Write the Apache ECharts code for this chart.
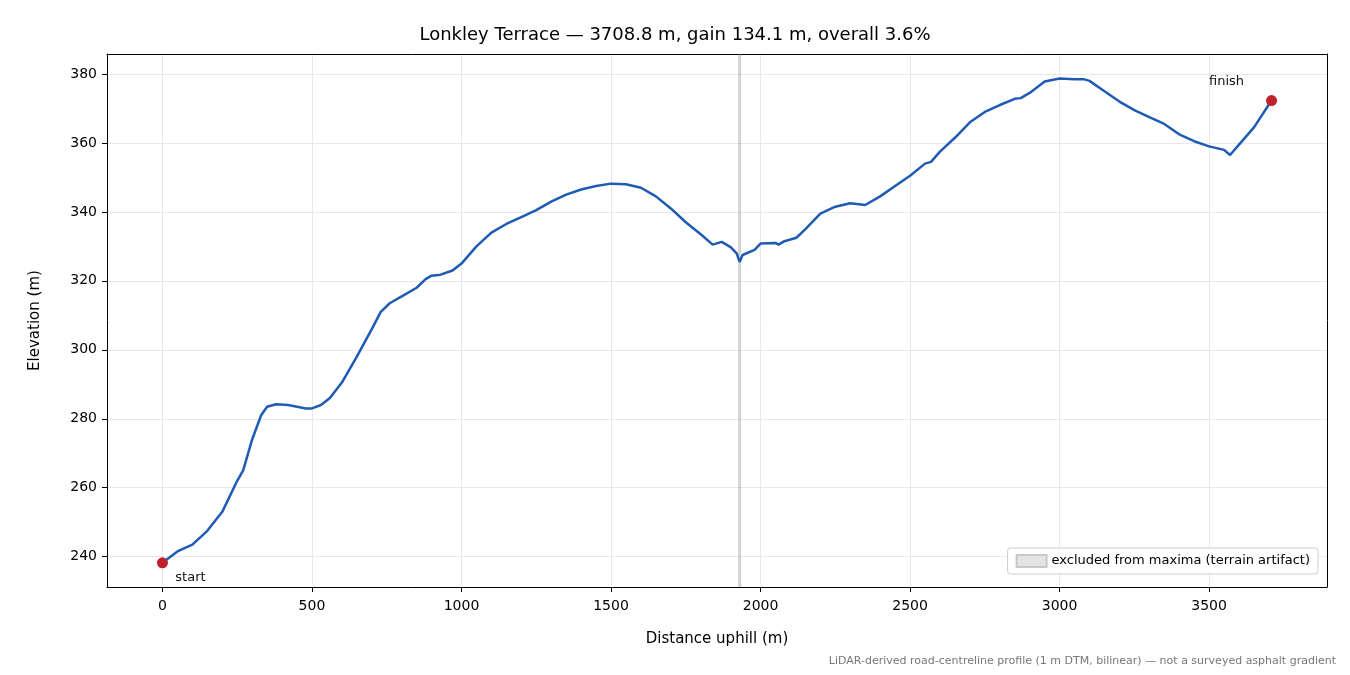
<!DOCTYPE html>
<html><head><meta charset="utf-8">
<script src="https://cdn.jsdelivr.net/npm/echarts@6/dist/echarts.min.js"></script>
<style>html,body{margin:0;padding:0;background:#fff}#c{width:1350px;height:675px}</style>
</head><body><div id="c"></div>
<script>
const distance = [0,50,100,150,200,250,270,300,330,350,380,420,450,480,500,530,560,600,650,700,730,760,800,850,880,900,930,970,1000,1050,1100,1150,1200,1250,1300,1350,1400,1450,1500,1550,1600,1650,1700,1750,1800,1840,1870,1900,1920,1930,1940,1980,2000,2050,2060,2080,2120,2150,2200,2250,2300,2350,2400,2450,2500,2550,2570,2600,2650,2700,2750,2800,2850,2870,2900,2950,3000,3050,3080,3100,3150,3200,3250,3300,3350,3400,3450,3500,3550,3570,3600,3650,3708.8];
const elevation = [238.2,241.5,243.5,247.5,253,262,265,274,281,283.5,284.2,284,283.5,283,283,284,286,290.5,298,306,311,313.5,315.5,318,320.5,321.5,321.8,323,325,330,334,336.5,338.5,340.5,343,345,346.5,347.5,348.2,348,347,344.5,341,337,333.5,330.5,331.3,329.8,328,325.5,327.5,329,330.8,331,330.5,331.5,332.5,335,339.5,341.5,342.5,342,344.5,347.5,350.5,354,354.5,357.5,361.5,366,369,371,372.8,373,374.5,377.8,378.7,378.5,378.5,378,375,372,369.5,367.5,365.5,362.5,360.5,359,358,356.5,359.5,364.5,372.3];
const excluded = [1925,1935];
const xTicks = [0,500,1000,1500,2000,2500,3000,3500];
const yTicks = [240,260,280,300,320,340,360,380];
const font = 'DejaVu Sans';
const chart = echarts.init(document.getElementById('c'));
const line = distance.map((d,i)=>[d,elevation[i]]);
const n = line.length-1;
const frame = {show:true,onZero:false,lineStyle:{color:'#000',width:1}};
chart.setOption({
  animation:false,
  textStyle:{fontFamily:font},
  title:{text:'Lonkley Terrace — 3708.8 m, gain 134.1 m, overall 3.6%',left:'center',top:21,textStyle:{fontFamily:font,fontSize:18,fontWeight:'normal',color:'#000'}},
  grid:{left:107,right:23,top:54,bottom:88},
  xAxis:[{type:'value',min:-185.4,max:3894.2,
    name:'Distance uphill (m)',nameLocation:'middle',nameGap:45,nameTextStyle:{fontSize:15,color:'#000'},
    axisLine:frame,
    axisTick:{show:true,length:5,customValues:xTicks,lineStyle:{color:'#000'}},
    axisLabel:{fontSize:14,color:'#000',margin:12,customValues:xTicks,formatter:v=>String(v)},
    splitLine:{show:false}},
    {type:'value',position:'top',min:-185.4,max:3894.2,axisLine:frame,axisTick:{show:false},axisLabel:{show:false},splitLine:{show:false}}],
  yAxis:[{type:'value',min:231.2,max:385.8,
    name:'Elevation (m)',nameLocation:'middle',nameGap:64,nameTextStyle:{fontSize:15,color:'#000'},
    axisLine:frame,
    axisLabel:{fontSize:14,color:'#000',margin:10,customValues:yTicks,formatter:v=>String(v)},
    axisTick:{show:true,length:5,customValues:yTicks,lineStyle:{color:'#000'}},
    splitLine:{show:false}},
    {type:'value',position:'right',min:231.2,max:385.8,axisLine:frame,axisTick:{show:false},axisLabel:{show:false},splitLine:{show:false}}],
  legend:{right:32,bottom:101,orient:'vertical',itemWidth:30,itemHeight:12,
    backgroundColor:'#fff',borderColor:'#ccc',borderWidth:1,borderRadius:3,padding:[6,8],
    textStyle:{fontSize:13,color:'#000'},data:[{name:'excluded from maxima (terrain artifact)',icon:'rect'}]},
  graphic:[{type:'text',right:14,bottom:8,style:{text:'LiDAR-derived road-centreline profile (1 m DTM, bilinear) — not a surveyed asphalt gradient',fontFamily:font,fontSize:11,fill:'#777'}}],
  series:[
    {type:'line',name:'grid',data:[],silent:true,z:0,
     markLine:{silent:true,z:0,symbol:'none',label:{show:false},lineStyle:{color:'#e8e8e8',type:'solid',width:1},
       data:yTicks.map(v=>({yAxis:v})).concat(xTicks.map(v=>({xAxis:v})))}},
    {type:'line',name:'excluded from maxima (terrain artifact)',data:[],z:1,itemStyle:{color:'#e4e4e4',borderColor:'#c8c8c8',borderWidth:1},
     lineStyle:{width:0},
     markArea:{silent:true,itemStyle:{color:'rgba(128,128,128,0.35)'},data:[[{xAxis:excluded[0]},{xAxis:excluded[1]}]]}},
    {type:'line',data:line,z:3,showSymbol:false,smooth:false,lineStyle:{color:'#1f5bb5',width:2.5},itemStyle:{color:'#1f5bb5'}},
    {type:'scatter',data:[line[0],line[n]],z:5,symbolSize:11,itemStyle:{color:'#c11f2a',opacity:1},
     label:{show:true,fontSize:13,color:'#111',formatter:p=>p.dataIndex===0?'start':'finish',
       position:'bottom'},
     labelLayout:p=>p.dataIndex===0?{dx:28,dy:-2}:{dx:-45,dy:-36}}
  ]
});
</script></body></html>
